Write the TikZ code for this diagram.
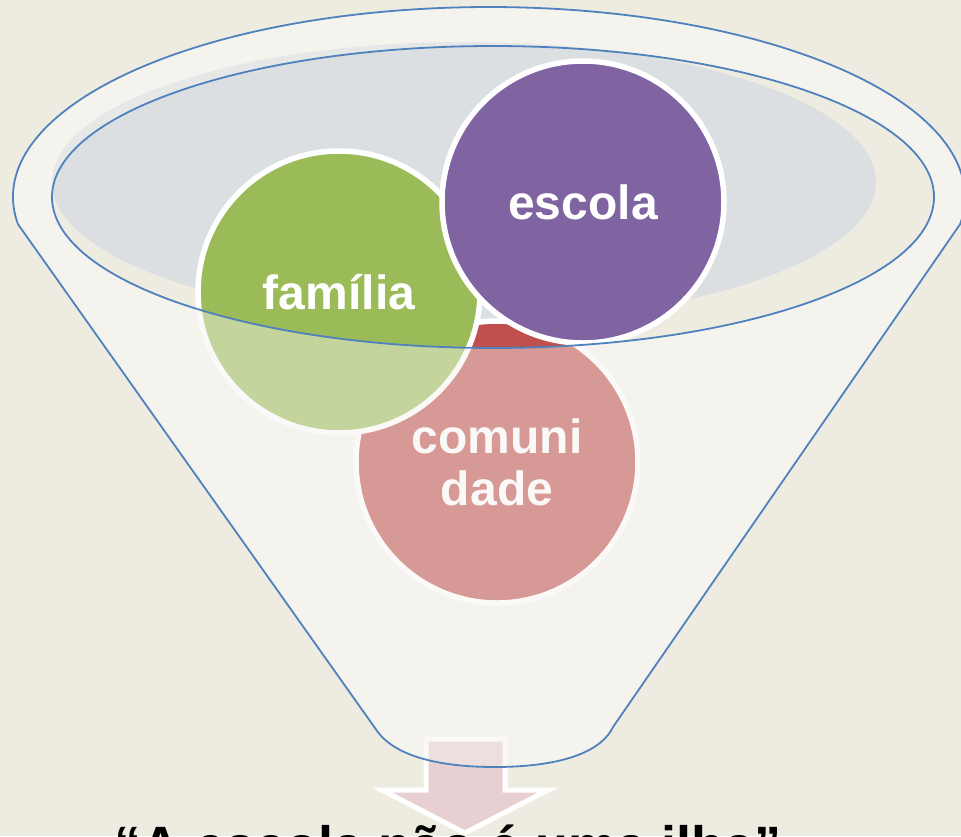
\documentclass[tikz,border=0pt]{standalone}
\usepackage{fontspec}
\setmainfont{Liberation Sans}
\usepackage{tikz}

\definecolor{bgbeige}{HTML}{EEECE1}
\definecolor{funnelfill}{HTML}{F4F3EE}
\definecolor{rimgray}{HTML}{DCDFE2}
\definecolor{rimline}{HTML}{4F81BD}
\definecolor{famgreen}{HTML}{9BBB59}
\definecolor{escpurple}{HTML}{8064A2}
\definecolor{comred}{HTML}{C0504D}
\definecolor{arrowpink}{HTML}{E8D0D2}

\def\funnelpath{(17.9,224.1) arc[x radius=476,y radius=190,start angle=171.8,end angle=368.2]
  -- (613,727) .. controls (598,758) and (545,767) .. (495,767)
  .. controls (450,767) and (395,760) .. (375,728) -- cycle}

\begin{document}
\begin{tikzpicture}[x=1pt,y=-1pt]
  \tikzstyle{bubble}=[circle,draw=white,line width=5.5pt,minimum size=282pt,inner sep=0pt,
    text=white,align=center,font=\fontsize{48}{52}\selectfont\bfseries]
  \tikzstyle{rim}=[draw=rimline,line width=1.8pt]

  \useasboundingbox (0,0) rectangle (961,836);
  \clip (0,0) rectangle (961,836);
  \fill[bgbeige] (0,0) rectangle (961,836);

  % funnel and its opening
  \fill[funnelfill] \funnelpath;
  \fill[bgbeige] (493,197) ellipse[x radius=441,y radius=151];
  \fill[rimgray] (464,182) ellipse[x radius=412,y radius=140];

  % arrow out of the funnel
  \draw[white,line width=5pt,fill=arrowpink] (426,739) -- (505,739) -- (505,790) -- (548,790)
    -- (465,833) -- (382,790) -- (426,790) -- cycle;

  \node[bubble,fill=comred]    (comunidade) at (497,462) {comuni\\dade};
  \node[bubble,fill=famgreen]  (familia)    at (339,292) {família};
  \node[bubble,fill=escpurple] (escola)     at (583,202) {escola};

  % front of the funnel, over the circles
  \fill[funnelfill,opacity=0.45,even odd rule] \funnelpath (493,197) ellipse[x radius=441,y radius=151];
  \draw[rim] \funnelpath;
  \draw[rim] (493,197) ellipse[x radius=441,y radius=151];

  \node[anchor=base,font=\fontsize{54}{60}\selectfont\bfseries] (lema) at (448,864)
    {“A escola não é uma ilha”};
\end{tikzpicture}
\end{document}
